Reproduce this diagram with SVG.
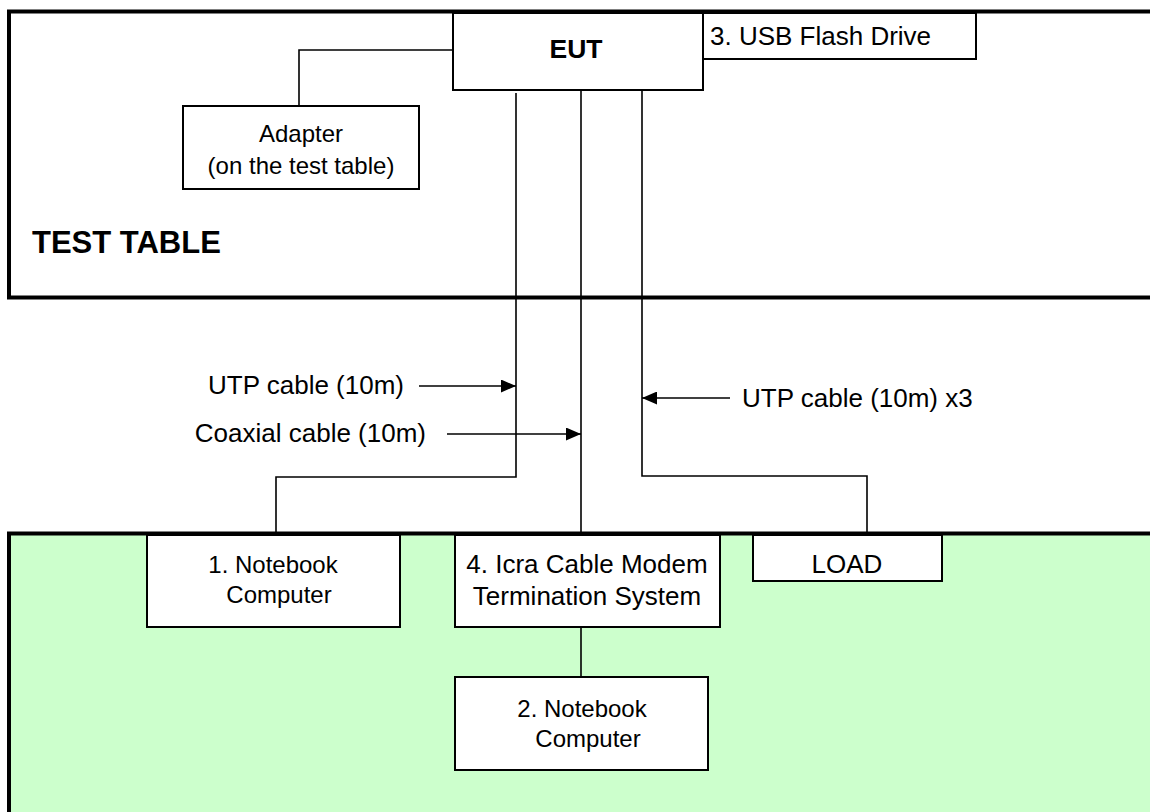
<svg xmlns="http://www.w3.org/2000/svg" width="1150" height="812" viewBox="0 0 1150 812">
<style>
.box{fill:#fff;stroke:#000;stroke-width:2}
.zone{stroke:#000;stroke-width:4}
.ln{fill:none;stroke:#000;stroke-width:1.6}
text{font-family:"Liberation Sans",Arial,sans-serif;fill:#000}
.t{font-size:26px}
.s{font-size:24px}
.b{font-weight:bold}
</style>
<defs>
<marker id="ah" viewBox="0 0 15 13" refX="15" refY="6.5" markerWidth="15" markerHeight="13" markerUnits="userSpaceOnUse" orient="auto">
<path d="M0,0 L15,6.5 L0,13 z" fill="#000"/>
</marker>
</defs>
<g id="test-table">
<rect class="zone" x="9" y="11.5" width="1160" height="286" fill="#fff"/>
<text class="b" x="32" y="253" font-size="31">TEST TABLE</text>
</g>
<g id="ground">
<rect class="zone" x="9" y="533.5" width="1160" height="300" fill="#CCFFCC"/>
</g>
<g id="connectors">
<polyline class="ln" points="453,50 299,50 299,106"/>
<polyline class="ln" points="516,93 516,477 276,477 276,535"/>
<line class="ln" x1="581" y1="90" x2="581" y2="535"/>
<polyline class="ln" points="642,90 642,476 867,476 867,535"/>
<line class="ln" x1="581" y1="627" x2="581" y2="677"/>
<line class="ln" x1="419" y1="386" x2="516" y2="386" marker-end="url(#ah)"/>
<line class="ln" x1="447" y1="434" x2="581" y2="434" marker-end="url(#ah)"/>
<line class="ln" x1="730" y1="398" x2="642" y2="398" marker-end="url(#ah)"/>
<text class="t" x="404" y="394" text-anchor="end">UTP cable (10m)</text>
<text class="t" x="426" y="442" text-anchor="end">Coaxial cable (10m)</text>
<text class="t" x="742" y="407">UTP cable (10m) x3</text>
</g>
<g id="eut">
<rect class="box" x="453" y="13" width="250" height="77"/>
<text class="b" x="576" y="58" font-size="26.5" text-anchor="middle">EUT</text>
</g>
<g id="usb">
<rect class="box" x="703" y="13" width="273" height="46"/>
<text class="t" x="710" y="45">3. USB Flash Drive</text>
</g>
<g id="adapter">
<rect class="box" x="183" y="106" width="236" height="83"/>
<text class="s" x="301" y="142" text-anchor="middle">Adapter</text>
<text class="s" x="301" y="174" text-anchor="middle">(on the test table)</text>
</g>
<g id="notebook1">
<rect class="box" x="147" y="535" width="253" height="92"/>
<text class="s" x="273" y="573" text-anchor="middle">1. Notebook</text>
<text class="s" x="279" y="603" text-anchor="middle">Computer</text>
</g>
<g id="cmts">
<rect class="box" x="455" y="535" width="265" height="92"/>
<text class="t" x="587" y="573" text-anchor="middle">4. Icra Cable Modem</text>
<text class="t" x="587" y="605" text-anchor="middle">Termination System</text>
</g>
<g id="load">
<rect class="box" x="753" y="535" width="189" height="46"/>
<text class="t" x="847" y="573" text-anchor="middle">LOAD</text>
</g>
<g id="notebook2">
<rect class="box" x="455" y="677" width="253" height="93"/>
<text class="s" x="582" y="717" text-anchor="middle">2. Notebook</text>
<text class="s" x="588" y="747" text-anchor="middle">Computer</text>
</g>
</svg>
